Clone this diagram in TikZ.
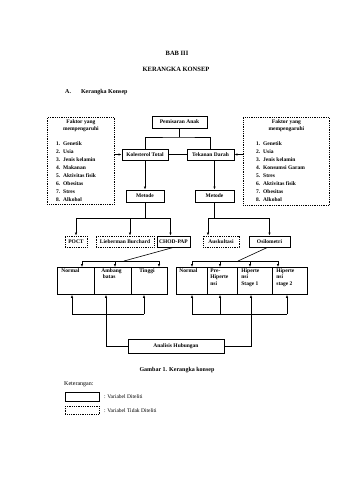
\documentclass[tikz,border=0pt]{standalone}
\usepackage{fontspec}
\setmainfont{Liberation Serif}
\usetikzlibrary{arrows.meta, positioning, calc, fit}

\tikzset{
  konsep/.style={draw, line width=0.8pt, inner sep=1pt, font=\fontsize{5.5}{6.5}\selectfont\bfseries},
  tidak/.style={konsep, densely dotted},
  panah/.style={-{Latex[length=3pt,width=2.4pt]}, line width=0.6pt},
  garis/.style={line width=0.6pt},
  teks/.style={inner sep=0pt, font=\fontsize{5.5}{8}\selectfont\bfseries},
}
\newcommand{\nomor}[1]{\makebox[7pt][l]{#1.}}

\begin{document}
\begin{tikzpicture}[x=1pt, y=-1pt]
\useasboundingbox (0,0) rectangle (339,480);

% judul
\node[teks, font=\fontsize{6.5}{8}\selectfont\bfseries] (bab) at (177,53) {BAB III};
\node[teks, font=\fontsize{6.5}{8}\selectfont\bfseries] (judul) at (176,69) {KERANGKA KONSEP};
\node[teks, font=\fontsize{6}{8}\selectfont\bfseries, anchor=west] (subjudul) at (65,92) {A.\hspace{10pt}Kerangka Konsep};

% variabel utama
\node[konsep, minimum width=55, minimum height=12] (anak) at (179.5,122) {Pemisaran Anak};
\node[konsep, minimum width=46, minimum height=11] (kol) at (145,154.5) {Kolesterol Total};
\node[konsep, minimum width=47, minimum height=11] (td) at (210.5,154.5) {Tekanan Darah};
\node[konsep, minimum width=38, minimum height=12] (metl) at (145,196) {Metode};
\node[konsep, minimum width=39, minimum height=12] (metr) at (214.5,196) {Metode};

% faktor yang mempengaruhi
\node[tidak, minimum width=67, minimum height=87, anchor=north west] (fakl) at (47,117) {};
\node[teks, align=center, font=\fontsize{5.5}{7}\selectfont\bfseries, below=2.5pt of fakl.north] (fakljudul) {Faktor yang\\mempengaruhi};
\node[teks, align=left, below right=24pt and 9pt of fakl.north west] (fakllist) {
  \nomor{1}Genetik\\ \nomor{2}Usia\\ \nomor{3}Jenis kelamin\\ \nomor{4}Makanan\\
  \nomor{5}Aktivitas fisik\\ \nomor{6}Obesitas\\ \nomor{7}Stres\\ \nomor{8}Alkohol};
\node[tidak, minimum width=86, minimum height=88, anchor=north west] (fakr) at (243,117) {};
\node[teks, align=center, font=\fontsize{5.5}{7}\selectfont\bfseries, below=2.5pt of fakr.north] (fakrjudul) {Faktor yang\\mempengaruhi};
\node[teks, align=left, below right=24pt and 13pt of fakr.north west] (fakrlist) {
  \nomor{1}Genetik\\ \nomor{2}Usia\\ \nomor{3}Jenis kelamin\\ \nomor{4}Konsumsi Garam\\
  \nomor{5}Stres\\ \nomor{6}Aktivitas fisik\\ \nomor{7}Obesitas\\ \nomor{8}Alkohol};

% metode pemeriksaan
\node[tidak, minimum width=22, minimum height=11] (poct) at (76,241.5) {POCT};
\node[tidak, minimum width=58, minimum height=11] (lieb) at (125,241.5) {Lieberman Burchard};
\node[konsep, minimum width=33, minimum height=11] (chod) at (173.5,241.5) {CHOD-PAP};
\node[tidak, minimum width=36, minimum height=11] (ausk) at (221,241.5) {Auskultasi};
\node[konsep, minimum width=41, minimum height=11] (osil) at (269.5,241.5) {Osilometri};

% kategori kolesterol
\node[konsep, anchor=north west] (norl) at (57,267) {\parbox[t][25pt][t]{35pt}{\hspace*{3pt}Normal}};
\node[konsep, anchor=north west] (amb) at (94,267) {\parbox[t][25pt][t]{35pt}{\hspace*{6pt}Ambang\\\hspace*{7.5pt}batas}};
\node[konsep, anchor=north west] (tinggi) at (131,267) {\parbox[t][25pt][t]{34pt}{\hspace*{7pt}Tinggi}};

% kategori tekanan darah
\node[konsep, anchor=north west] (norr) at (176,267) {\parbox[t][25pt][t]{29pt}{\hspace*{2pt}Normal}};
\node[konsep, anchor=north west] (pre) at (207,267) {\parbox[t][25pt][t]{28pt}{\leftskip=2pt Pre-\\Hiperte\\nsi}};
\node[konsep, anchor=north west] (hst1) at (237,267) {\parbox[t][25pt][t]{33pt}{\leftskip=3pt Hiperte\\nsi\\Stage 1}};
\node[konsep, anchor=north west] (hst2) at (272,267) {\parbox[t][25pt][t]{33pt}{\leftskip=3pt Hiperte\\nsi\\stage 2}};

\node[konsep, minimum width=96, minimum height=14] (anal) at (176,346) {Analisis Hubungan};

% titik bantu
\coordinate (cab) at (179.5,137);
\coordinate (metlb) at (145,218);
\coordinate (metrb) at (214.5,218);
\coordinate (kl1) at (82,261);
\coordinate (kl2) at (115,261);
\coordinate (kl3) at (159,261);
\coordinate (kr1) at (192,261);
\coordinate (kr2) at (220,261);
\coordinate (kr3) at (250,261);
\coordinate (kr4) at (278,261);
\coordinate (bl1) at (72,314);
\coordinate (bl2) at (106,314);
\coordinate (bl3) at (144,314);
\coordinate (br1) at (192,314);
\coordinate (br2) at (220,314);
\coordinate (br3) at (251,314);
\coordinate (br4) at (287,314);

% garis penghubung
\draw[garis] (anak) -- (cab);
\draw[garis] (kol.north) |- (cab) -| (td.north);
\draw[garis] (kol) -- (td);
\draw[panah] (fakl.east |- kol) -- (kol);
\draw[panah] (fakr.west |- td) -- (td);
\draw[panah] (kol) -- (metl);
\draw[panah] (metr.north |- td.south) -- (metr);

\draw[garis] (metl) -- (metlb);
\draw[panah] (metlb) -| (poct);
\draw[panah] (metlb) -| ([xshift=5pt]lieb.north);
\draw[panah] (metlb) -| ([xshift=-3pt]chod.north);
\draw[garis] (metr) -- (metrb);
\draw[panah] (metrb) -| ([xshift=-13pt]ausk.north);
\draw[panah] (metrb) -| (osil);

\draw[garis] (chod.south) -- (124,261);
\draw[garis] (kl1) -- (kl3);
\draw[panah] (kl1) -- (kl1 |- norl.north);
\draw[panah] (kl2) -- (kl2 |- amb.north);
\draw[panah] (kl3) -- (kl3 |- tinggi.north);
\draw[garis] ([xshift=-2pt]osil.south) -- (238,261);
\draw[garis] (kr1) -- (kr4);
\draw[panah] (kr1) -- (kr1 |- norr.north);
\draw[panah] (kr2) -- (kr2 |- pre.north);
\draw[panah] (kr3) -- (kr3 |- hst1.north);
\draw[panah] (kr4) -- (kr4 |- hst2.north);

\draw[garis] (bl1) -- (bl3);
\draw[panah] (bl1) -- (bl1 |- norl.south);
\draw[panah] (anal.west) -| (bl2 |- amb.south);
\draw[panah] (bl3) -- (bl3 |- tinggi.south);
\draw[garis] (br1) -- (br4);
\draw[panah] (br1) -- (br1 |- norr.south);
\draw[panah] (br2) -- (br2 |- pre.south);
\draw[panah] (anal.east) -| (br3 |- hst1.south);
\draw[panah] (br4) -- (br4 |- hst2.south);

% keterangan
\node[teks, font=\fontsize{6}{8}\selectfont\bfseries] (gambar) at (177,370) {Gambar 1. Kerangka konsep};
\node[teks, anchor=west, font=\fontsize{6}{8}\selectfont] (ket) at (64,384) {Keterangan:};
\node[konsep, minimum width=34, minimum height=9, anchor=north west] (legdit) at (65,392) {};
\node[teks, anchor=west, font=\fontsize{5.5}{8}\selectfont, right=4pt of legdit] (legditteks) {: Variabel Diteliti};
\node[tidak, minimum width=34, minimum height=8, anchor=north west] (legtdk) at (65,406) {};
\node[teks, anchor=west, font=\fontsize{5.5}{8}\selectfont, right=4pt of legtdk] (legtdkteks) {: Variabel Tidak Diteliti};
\end{tikzpicture}
\end{document}
